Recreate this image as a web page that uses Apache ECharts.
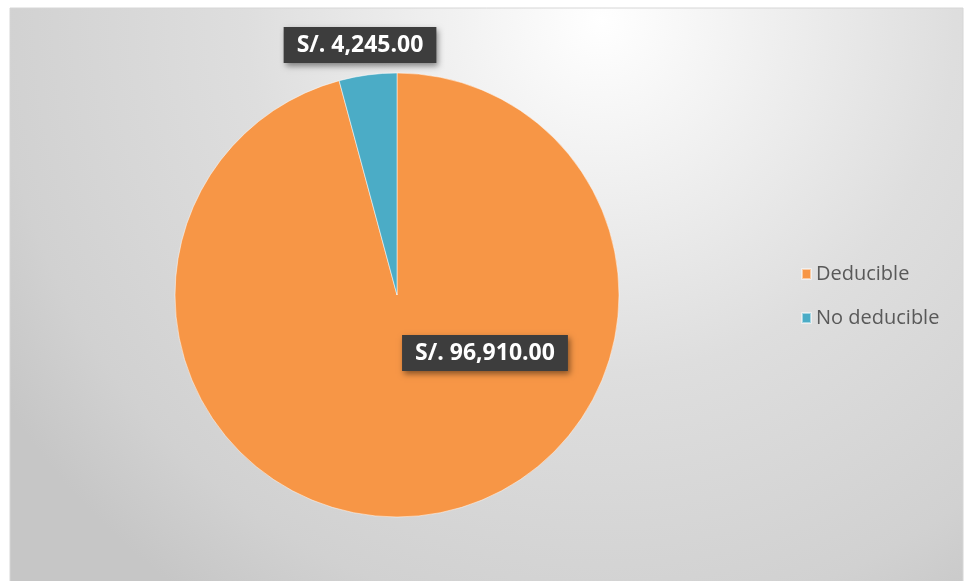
<!DOCTYPE html>
<html>
<head>
<meta charset="utf-8">
<script src="https://cdn.jsdelivr.net/npm/echarts@6/dist/echarts.min.js"></script>
<style>html,body{margin:0;padding:0;background:#fff;}#c{width:965px;height:581px;}</style>
</head>
<body>
<div id="c"></div>
<script>
const categories = ['Deducible', 'No deducible'];
const values = [96910, 4245];
const colors = ['#F79646', '#4BACC6'];
const labelOffsets = [[73, -55], [-22, -137]];

const chart = echarts.init(document.getElementById('c'));
function fmt(v) {
  return 'S/. ' + v.toLocaleString('en-US', {minimumFractionDigits: 2, maximumFractionDigits: 2});
}
chart.setOption({
  animation: false,
  graphic: [{
    type: 'rect',
    shape: {x: 10, y: 8, width: 953, height: 590},
    style: {
      fill: {
        type: 'radial', x: 0.62, y: 0.02, r: 1.2,
        colorStops: [
          {offset: 0, color: '#ffffff'},
          {offset: 0.5, color: '#dedede'},
          {offset: 0.85, color: '#d1d1d1'},
          {offset: 1, color: '#c6c6c6'}
        ]
      },
      stroke: '#d6d6d6', lineWidth: 1
    },
    z: -10
  }],
  legend: {
    orient: 'vertical',
    left: 796,
    top: 259,
    itemWidth: 9,
    itemHeight: 10,
    itemGap: 24,
    icon: 'rect',
    textStyle: {color: '#595959', fontSize: 20, fontFamily: 'Open Sans'},
    data: categories
  },
  series: [{
    type: 'pie',
    center: [397, 295],
    radius: [0, 222],
    startAngle: 90,
    clockwise: true,
    itemStyle: {borderColor: 'rgba(255,255,255,0.5)', borderWidth: 1},
    label: {
      show: true,
      position: 'inside',
      formatter: p => fmt(p.value),
      color: '#ffffff',
      fontWeight: 'bold',
      fontSize: 23,
      fontFamily: 'Open Sans',
      backgroundColor: '#3d3d3d',
      padding: [7, 13, 6, 13],
      shadowColor: 'rgba(0,0,0,0.45)',
      shadowBlur: 6,
      shadowOffsetX: 2,
      shadowOffsetY: 3
    },
    labelLine: {show: false},
    labelLayout: p => ({dx: labelOffsets[p.dataIndex][0], dy: labelOffsets[p.dataIndex][1]}),
    emphasis: {disabled: true},
    data: categories.map((n, i) => ({name: n, value: values[i], itemStyle: {color: colors[i]}}))
  }]
});
</script>
</body>
</html>
